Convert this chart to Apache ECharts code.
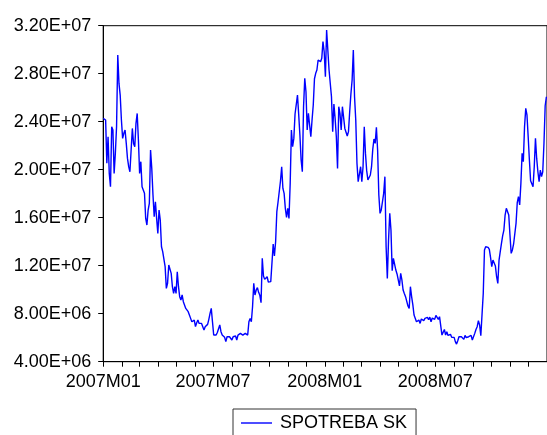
<!doctype html>
<html lang="en">
<head>
    <meta charset="UTF-8">
    <title>SPOTREBA SK</title>
    <style>
        html, body { margin: 0; padding: 0; background: #fff; }
        #main { width: 547px; height: 435px; }
    </style>
</head>
<body>
<div id="main"></div>
<script src="https://cdn.jsdelivr.net/npm/echarts@6.0.0/dist/echarts.min.js"></script>
<script type="text/javascript">
    // series, one value every 2nd day from 2007-01-01, in millions
    var seriesName = 'SPOTREBA SK';
    var startDate = [2007, 0, 1];
    var stepDays = 2;
    var spotreba = [
        24.28, 24.33, 24.14, 20.53, 22.75, 19.69, 18.58, 23.58, 23.31, 19.69,
        21.36, 23.58, 29.56, 27.19, 26.22, 24.14, 22.61, 23.03, 23.31, 22.19,
        20.94, 20.25, 19.83, 21.64, 23.44, 22.19, 21.92, 23.86, 24.69, 22.47,
        19.69, 20.67, 18.58, 18.31, 18.03, 15.94, 15.39, 16.64, 17.19, 21.64,
        20.11, 17.89, 16.08, 17.33, 15.94, 14.69, 16.64, 15.81, 13.58, 13.17,
        13.31, 11.92, 10.11, 10.53, 12.06, 12.06, 11.36, 10.25, 9.69, 10.25,
        9.69, 11.5, 10.25, 9.42, 9.14, 9.56, 9.0, 9.0, 8.44, 8.58,
        8.17, 7.89, 7.61, 7.33, 7.47, 7.47, 6.92, 7.25, 7.47, 7.19,
        7.25, 7.19, 7.11, 6.64, 6.92, 6.92, 7.11, 7.53, 8.03, 8.44,
        7.33, 6.22, 6.36, 6.22, 6.44, 6.36, 7.06, 6.5, 6.22, 6.22,
        6.03, 5.67, 6.08, 6.03, 6.08, 6.22, 5.81, 6.08, 6.03, 6.14,
        5.81, 6.22, 6.08, 6.36, 6.5, 6.22, 6.08, 6.36, 6.22, 6.22,
        7.33, 7.61, 7.33, 8.58, 10.53, 9.56, 9.97, 10.17, 9.78, 9.53,
        8.92, 12.61, 11.14, 10.86, 10.92, 11.08, 10.64, 10.64, 10.67, 10.75,
        13.81, 12.81, 14.0, 16.5, 17.31, 17.47, 19.06, 20.25, 18.44, 18.03,
        16.78, 16.03, 16.78, 15.94, 18.86, 23.31, 21.92, 22.61, 24.64, 24.56,
        26.22, 24.61, 22.89, 20.81, 19.83, 25.25, 27.61, 26.5, 23.31, 24.69,
        24.56, 22.75, 24.14, 25.39, 27.58, 28.03, 28.31, 29.14, 29.28, 29.0,
        29.28, 30.67, 29.83, 27.75, 31.64, 29.97, 28.31, 28.17, 26.08, 23.17,
        25.47, 24.28, 22.75, 20.11, 25.25, 24.69, 23.31, 25.25, 25.11, 23.44,
        23.31, 22.81, 23.17, 24.83, 26.31, 27.47, 29.97, 26.08, 24.14, 20.53,
        19.0, 18.86, 20.25, 19.0, 20.25, 23.58, 21.36, 19.92, 19.14, 19.14,
        19.56, 20.25, 21.69, 22.56, 22.19, 23.53, 21.64, 17.89, 16.36, 16.64,
        16.78, 18.03, 19.42, 13.58, 10.94, 14.14, 16.36, 14.97, 11.58, 12.61,
        12.47, 11.64, 11.31, 11.22, 10.31, 11.36, 10.81, 9.97, 9.69, 9.42,
        9.28, 8.64, 8.44, 10.25, 9.42, 8.75, 7.89, 7.89, 7.33, 7.19,
        7.47, 7.19, 7.56, 7.61, 7.42, 7.61, 7.67, 7.69, 7.5, 7.72,
        7.33, 7.64, 7.56, 7.53, 7.86, 7.72, 7.53, 7.75, 7.81, 6.22,
        6.36, 6.69, 6.22, 6.5, 6.19, 6.14, 6.28, 6.03, 6.19, 6.03,
        5.67, 5.47, 5.75, 6.08, 6.17, 6.08, 6.17, 5.86, 6.19, 6.0,
        5.94, 6.08, 5.94, 6.19, 5.81, 5.94, 6.36, 6.69, 6.92, 7.42,
        7.06, 6.17, 6.28, 9.69, 13.31, 13.58, 13.58, 13.53, 13.36, 12.69,
        11.92, 12.47, 12.61, 11.97, 11.08, 10.53, 12.47, 13.17, 13.86, 14.5,
        14.97, 16.22, 16.78, 16.92, 16.22, 14.56, 13.03, 13.31, 13.81, 13.86,
        15.53, 17.25, 17.75, 17.06, 18.86, 21.36, 20.67, 23.58, 25.11, 24.56,
        22.75, 20.81, 19.08, 19.14, 18.58, 20.25, 22.61, 20.94, 19.83, 19.0,
        19.97, 19.42, 19.83, 22.19, 25.33, 26.08
    ];
    // month ticks and the labelled ones
    var tickMonthCount = 25;
    var labelMonths = ['2007M01', '2007M07', '2008M01', '2008M07'];
    var yTicks = [4e6, 8e6, 12e6, 16e6, 20e6, 24e6, 28e6, 32e6];

    var points = [];
    for (var i = 0; i < spotreba.length; i++) {
        var d = new Date(startDate[0], startDate[1], startDate[2] + i * stepDays);
        points.push([d.getTime(), spotreba[i] * 1e6]);
    }
    var tickValues = [];
    for (var m = 0; m < tickMonthCount; m++) {
        tickValues.push(new Date(startDate[0], m, 1).getTime());
    }
    var labelValues = labelMonths.map(function (s) {
        return new Date(parseInt(s.slice(0, 4), 10), parseInt(s.slice(5), 10) - 1, 1).getTime();
    });

    function monthLabel(val) {
        var d = new Date(val);
        var mm = d.getMonth() + 1;
        return d.getFullYear() + 'M' + (mm < 10 ? '0' : '') + mm;
    }

    function sciLabel(v) {
        var e = Math.floor(Math.log10(v) + 1e-9);
        var mant = v / Math.pow(10, e);
        return mant.toFixed(2) + 'E+' + (e < 10 ? '0' : '') + e;
    }

    var font = 'Liberation Sans';
    var myChart = echarts.init(document.getElementById('main'));

    var option = {
        backgroundColor: '#ffffff',
        animation: false,
        grid: {
            left: 103.2,
            top: 25.7,
            bottom: 73.3,
            right: -1.4,
            show: true,
            borderColor: '#000',
            borderWidth: 1
        },
        legend: {
            data: [seriesName],
            left: 233,
            top: 409,
            padding: [5, 9, 10, 8],
            borderColor: '#333',
            borderWidth: 1,
            // plain line sample, no marker
            icon: 'rect',
            itemWidth: 31,
            itemHeight: 1.4,
            itemStyle: {color: '#0000ff'},
            textStyle: {
                fontFamily: font,
                fontSize: 18,
                color: '#000',
                padding: [0, 0, 0, 3]
            }
        },
        xAxis: {
            // timestamps on a plain value axis, month ticks set explicitly
            type: 'value',
            min: tickValues[0],
            max: tickValues[tickValues.length - 1],
            axisLine: {lineStyle: {color: '#000', width: 1}},
            axisTick: {
                show: true,
                length: 5,
                inside: false,
                customValues: tickValues,
                lineStyle: {color: '#000'}
            },
            axisLabel: {
                customValues: labelValues,
                formatter: monthLabel,
                margin: 11,
                fontFamily: font,
                fontSize: 18,
                color: '#000'
            },
            splitLine: {show: false}
        },
        yAxis: {
            type: 'value',
            min: yTicks[0],
            max: yTicks[yTicks.length - 1],
            interval: yTicks[1] - yTicks[0],
            axisLine: {show: true, lineStyle: {color: '#000', width: 1}},
            axisTick: {show: true, length: 5, lineStyle: {color: '#000'}},
            axisLabel: {
                formatter: sciLabel,
                margin: 12,
                fontFamily: font,
                fontSize: 18,
                color: '#000'
            },
            splitLine: {show: false}
        },
        series: [
            {
                name: seriesName,
                type: 'line',
                data: points,
                symbol: 'none',
                showSymbol: false,
                lineStyle: {color: '#0000ff', width: 1.4},
                itemStyle: {color: '#0000ff'}
            }
        ]
    };

    myChart.setOption(option);
</script>
</body>
</html>
